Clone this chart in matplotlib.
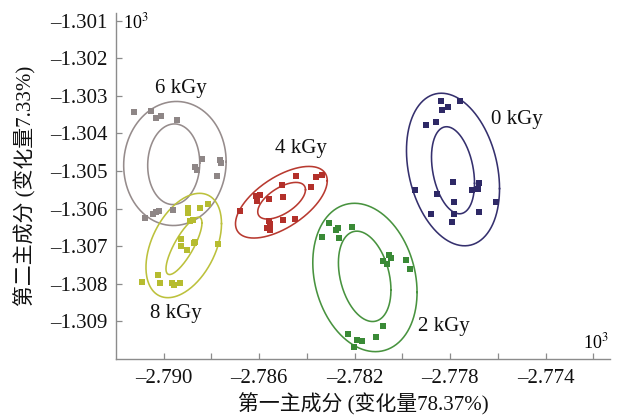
import numpy as np
import matplotlib
matplotlib.use("Agg")
import matplotlib.pyplot as plt
from matplotlib.ticker import FixedLocator, FuncFormatter

# PCA scores (units of 10^3) for each irradiation dose
groups = ["0 kGy", "2 kGy", "4 kGy", "6 kGy", "8 kGy"]

pc1_0 = [-2.77837, -2.77757, -2.77833, -2.77810, -2.77902, -2.77861, -2.77789, -2.77681, -2.77682,
         -2.77707, -2.77949, -2.77854, -2.77785, -2.77606, -2.77879, -2.77785, -2.77680, -2.77791]
pc2_0 = [-1.30313, -1.30313, -1.30338, -1.30331, -1.30377, -1.30371, -1.30530, -1.30533, -1.30548,
         -1.30550, -1.30550, -1.30561, -1.30583, -1.30583, -1.30613, -1.30613, -1.30608, -1.30636]

pc1_2 = [-2.78308, -2.78277, -2.78271, -2.78267, -2.78213, -2.78336, -2.78082, -2.78065, -2.78057,
         -2.78046, -2.77984, -2.77967, -2.78080, -2.78110, -2.78227, -2.78192, -2.78168, -2.78201]
pc2_2 = [-1.30639, -1.30656, -1.30652, -1.30679, -1.30650, -1.30676, -1.30740, -1.30747, -1.30723,
         -1.30732, -1.30736, -1.30761, -1.30911, -1.30942, -1.30934, -1.30950, -1.30951, -1.30969]

pc1_4 = [-2.78680, -2.78613, -2.78609, -2.78598, -2.78560, -2.78500, -2.78504, -2.78445, -2.78381,
         -2.78360, -2.78336, -2.78560, -2.78553, -2.78567, -2.78556, -2.78501, -2.78448]
pc2_4 = [-1.30607, -1.30567, -1.30579, -1.30565, -1.30574, -1.30570, -1.30536, -1.30512, -1.30543,
         -1.30517, -1.30511, -1.30632, -1.30640, -1.30651, -1.30657, -1.30630, -1.30627]

pc1_6 = [-2.79124, -2.79053, -2.79032, -2.79010, -2.78943, -2.78839, -2.78867, -2.78860, -2.78762,
         -2.78761, -2.78776, -2.78962, -2.79021, -2.79032, -2.79046, -2.79077]
pc2_6 = [-1.30342, -1.30341, -1.30358, -1.30353, -1.30365, -1.30469, -1.30489, -1.30498, -1.30472,
         -1.30478, -1.30512, -1.30603, -1.30606, -1.30608, -1.30615, -1.30626]

pc1_8 = [-2.78898, -2.78846, -2.78814, -2.78898, -2.78878, -2.78888, -2.78926, -2.78927, -2.78902,
         -2.78867, -2.78874, -2.78774, -2.79023, -2.79091, -2.79014, -2.78965, -2.78955, -2.78930]
pc2_8 = [-1.30597, -1.30598, -1.30588, -1.30611, -1.30630, -1.30632, -1.30682, -1.30699, -1.30709,
         -1.30690, -1.30691, -1.30693, -1.30776, -1.30796, -1.30798, -1.30799, -1.30803, -1.30798]

# Confidence ellipses: centre x, centre y, half-extent x, half-extent y, correlation
outer_ell = {
    "0 kGy": (-2.77788, -1.30496, 1.949e-3, 2.028e-3, -0.25),
    "2 kGy": (-2.78157, -1.30783, 2.184e-3, 1.972e-3, -0.20),
    "4 kGy": (-2.78507, -1.30583, 1.922e-3, 0.952e-3, 0.60),
    "6 kGy": (-2.78953, -1.30480, 2.146e-3, 1.649e-3, 0.03),
    "8 kGy": (-2.78916, -1.30698, 1.582e-3, 1.387e-3, 0.42),
}
inner_ell = {
    "0 kGy": (-2.77788, -1.30498, 0.901e-3, 1.157e-3, -0.30),
    "2 kGy": (-2.78158, -1.30780, 1.100e-3, 1.201e-3, -0.30),
    "4 kGy": (-2.78506, -1.30579, 1.000e-3, 0.487e-3, 0.60),
    "6 kGy": (-2.78958, -1.30482, 1.090e-3, 1.072e-3, 0.03),
    "8 kGy": (-2.78915, -1.30699, 0.754e-3, 0.762e-3, 0.80),
}

label_pos = {
    "0 kGy": (-2.77519, -1.30363),
    "2 kGy": (-2.77825, -1.30914),
    "4 kGy": (-2.78423, -1.30440),
    "6 kGy": (-2.78930, -1.30281),
    "8 kGy": (-2.78951, -1.30880),
}

xs = {"0 kGy": pc1_0, "2 kGy": pc1_2, "4 kGy": pc1_4, "6 kGy": pc1_6, "8 kGy": pc1_8}
ys = {"0 kGy": pc2_0, "2 kGy": pc2_2, "4 kGy": pc2_4, "6 kGy": pc2_6, "8 kGy": pc2_8}

point_colors = {"0 kGy": "#2e2966", "2 kGy": "#3a8a36", "4 kGy": "#b3302a",
                "6 kGy": "#8e8686", "8 kGy": "#b6bc30"}
line_colors = {"0 kGy": "#35306e", "2 kGy": "#48933f", "4 kGy": "#b83a30",
               "6 kGy": "#968c8c", "8 kGy": "#bcc13c"}

xticks_major = [-2.790, -2.786, -2.782, -2.778, -2.774]
xticks_minor = [-2.788, -2.784, -2.780, -2.776, -2.772]
yticks = [-1.309, -1.308, -1.307, -1.306, -1.305, -1.304, -1.303, -1.302, -1.301]

SERIF = ["Liberation Serif", "Noto Sans CJK SC"]
plt.rcParams["font.family"] = SERIF
plt.rcParams["mathtext.fontset"] = "stix"


def ellipse_xy(cx, cy, sx, sy, rho, n=300):
    t = np.linspace(0, 2 * np.pi, n)
    ex = cx + sx * np.cos(t)
    ey = cy + sy * (rho * np.cos(t) + np.sqrt(1 - rho ** 2) * np.sin(t))
    return ex, ey


def dash_fmt(v, pos):
    return f"{v:.3f}".replace("-", "\u2013")


fig = plt.figure(figsize=(6.2, 4.2), dpi=100)
ax = fig.add_axes([0.187, 0.145, 0.797, 0.824])

for g in groups:
    for ell in (outer_ell[g], inner_ell[g]):
        ex, ey = ellipse_xy(*ell)
        ax.plot(ex, ey, color=line_colors[g], lw=1.15, zorder=2)
    ax.scatter(xs[g], ys[g], marker="s", s=13, color=point_colors[g],
               linewidths=0, zorder=3)
    lx, ly = label_pos[g]
    ax.text(lx, ly, g, fontsize=15, ha="center", va="center", color="#111111")

ax.set_xlim(-2.792, -2.7713)
ax.set_ylim(-1.310, -1.3008)

ax.xaxis.set_major_locator(FixedLocator(xticks_major))
ax.xaxis.set_minor_locator(FixedLocator(xticks_minor))
ax.yaxis.set_major_locator(FixedLocator(yticks))
ax.xaxis.set_major_formatter(FuncFormatter(dash_fmt))
ax.yaxis.set_major_formatter(FuncFormatter(dash_fmt))

for side in ("top", "right"):
    ax.spines[side].set_visible(False)
for side in ("left", "bottom"):
    ax.spines[side].set_color("#8c8c8c")
    ax.spines[side].set_linewidth(1.0)

ax.tick_params(which="both", direction="in", length=4, width=0.9, color="#8c8c8c",
               labelsize=15, labelcolor="#111111")
ax.tick_params(axis="y", pad=6)
ax.tick_params(axis="x", pad=7)

ax.set_xlabel("第一主成分 (变化量78.37%)", fontsize=15, color="#111111", labelpad=4)
ax.set_ylabel("第二主成分 (变化量7.33%)", fontsize=15, color="#111111", labelpad=10)

fig.text(123 / 620, 1 - 22 / 420, "10$^3$", fontsize=13, ha="left", va="center")
fig.text(583 / 620, 1 - 342 / 420, "10$^3$", fontsize=13, ha="left", va="center")

fig.savefig("out.png", dpi=100)
